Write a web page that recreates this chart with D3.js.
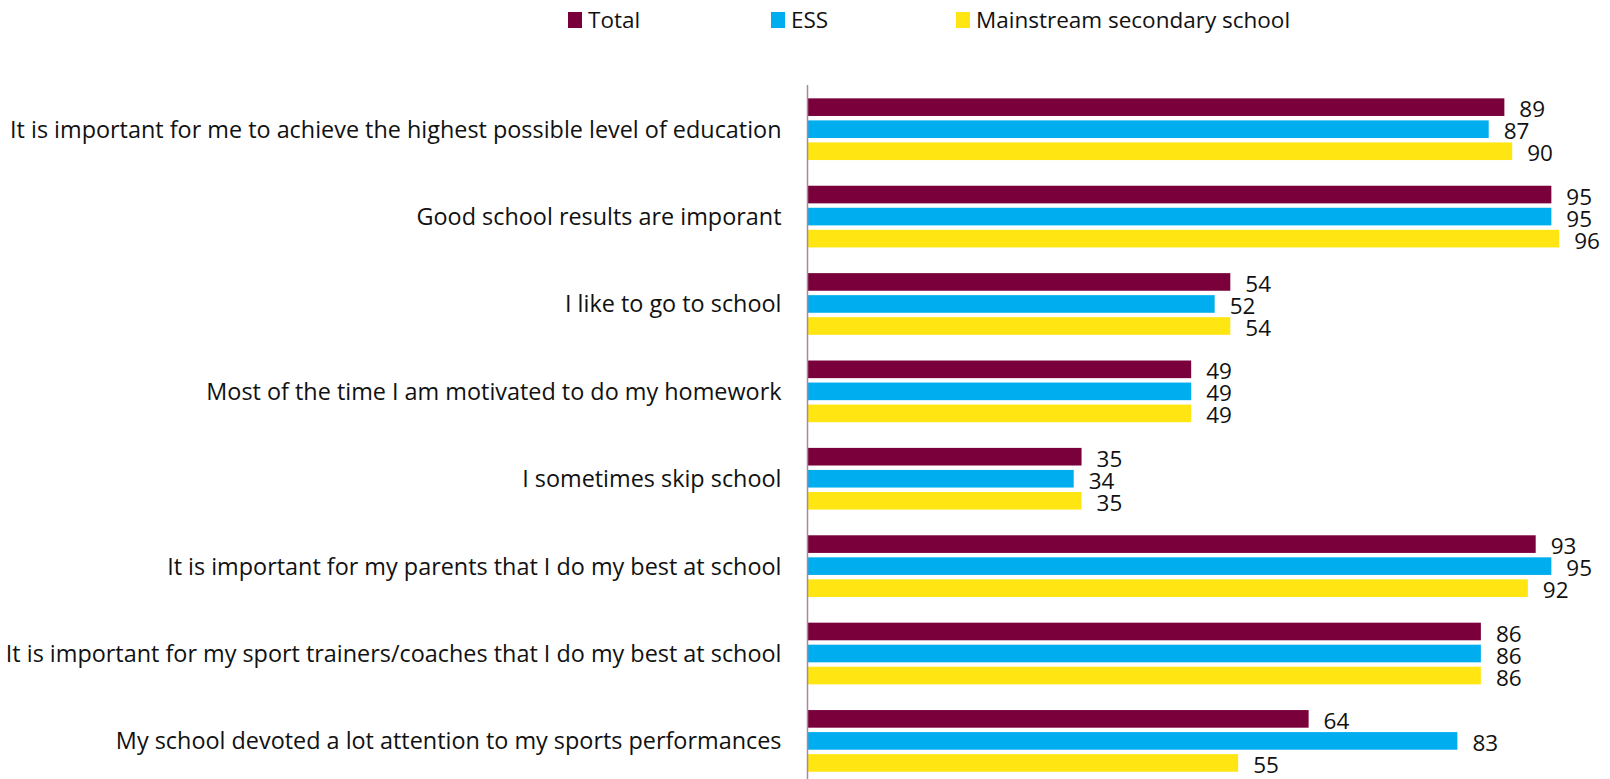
<!DOCTYPE html>
<html>
<head>
<meta charset="utf-8">
<script src="https://cdn.jsdelivr.net/npm/d3@7"></script>
<style>
  html, body { margin: 0; padding: 0; background: #fff; }
  svg { display: block; font-family: "Open Sans", Lato, sans-serif; }
</style>
</head>
<body>
<svg id="chart" width="1610" height="779"></svg>
<script>
// Survey statements (top to bottom)
const categories = [
  "It is important for me to achieve the highest possible level of education",
  "Good school results are imporant",
  "I like to go to school",
  "Most of the time I am motivated to do my homework",
  "I sometimes skip school",
  "It is important for my parents that I do my best at school",
  "It is important for my sport trainers/coaches that I do my best at school",
  "My school devoted a lot attention to my sports performances"
];

// Series names and percentage values per statement
const seriesNames = ["Total", "ESS", "Mainstream secondary school"];
const totalValues      = [89, 95, 54, 49, 35, 93, 86, 64];
const essValues        = [87, 95, 52, 49, 34, 95, 86, 83];
const mainstreamValues = [90, 96, 54, 49, 35, 92, 86, 55];
const seriesColors = ["#7A003C", "#00AEEF", "#FFE512"];

const seriesValues = [totalValues, essValues, mainstreamValues];

const svg = d3.select("#chart");

// Scales
const x = d3.scaleLinear().domain([0, 100]).range([807.5, 1590.5]);
const y0 = d3.scaleBand().domain(categories).range([85.5, 784.6]);
const y1 = d3.scaleBand().domain(seriesNames)
  .range([12.85, y0.bandwidth() - 12.85]).paddingInner(0.2);

// Bars
const groups = svg.append("g").selectAll("g")
  .data(categories)
  .join("g")
  .attr("transform", d => `translate(0,${y0(d)})`);

const cells = (d, i) => seriesNames.map((s, k) => ({ s, k, v: seriesValues[k][i] }));

groups.selectAll("rect")
  .data(cells)
  .join("rect")
  .attr("x", x(0))
  .attr("y", d => y1(d.s))
  .attr("width", d => x(d.v) - x(0))
  .attr("height", y1.bandwidth())
  .attr("fill", d => seriesColors[d.k]);

// Value labels
groups.selectAll("text.value")
  .data(cells)
  .join("text")
  .attr("class", "value")
  .attr("x", d => x(d.v) + 15)
  .attr("y", d => y1(d.s) + y1.bandwidth() / 2 + 2)
  .attr("dy", "0.36em")
  .attr("font-size", 22.5)
  .attr("fill", "#111")
  .text(d => d.v);

// Category axis line and labels
svg.append("line")
  .attr("x1", x(0)).attr("x2", x(0))
  .attr("y1", 85).attr("y2", 779)
  .attr("stroke", "#A8899A")
  .attr("stroke-width", 1.5);

svg.append("g").selectAll("text")
  .data(categories)
  .join("text")
  .attr("x", x(0) - 26)
  .attr("y", d => y0(d) + y0.bandwidth() / 2)
  .attr("dy", "0.36em")
  .attr("text-anchor", "end")
  .attr("font-size", 23.4)
  .attr("fill", "#111")
  .text(d => d);

// Legend
const legendX = [568, 771, 956];
const legend = svg.append("g").selectAll("g")
  .data(seriesNames)
  .join("g")
  .attr("transform", (d, i) => `translate(${legendX[i]},0)`);

legend.append("rect")
  .attr("x", 0).attr("y", 12)
  .attr("width", 14).attr("height", 16)
  .attr("fill", (d, i) => seriesColors[i]);

legend.append("text")
  .attr("x", 20).attr("y", 28)
  .attr("font-size", 22.5)
  .attr("fill", "#111")
  .text(d => d);
</script>
</body>
</html>
